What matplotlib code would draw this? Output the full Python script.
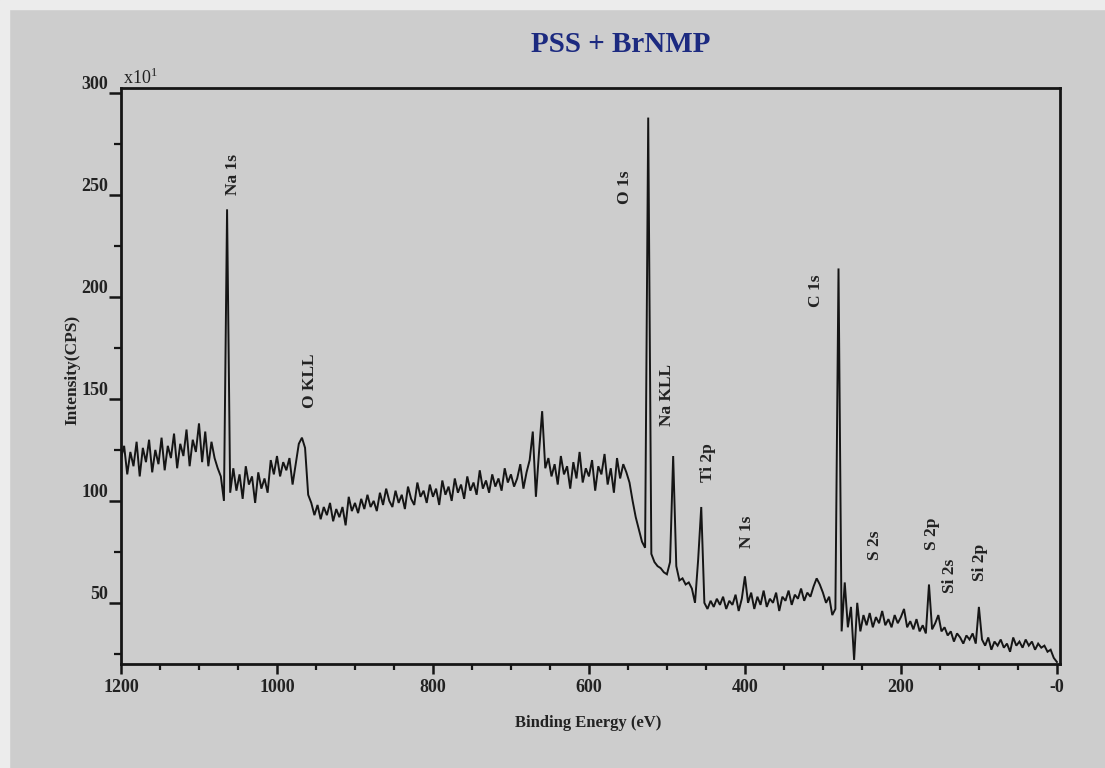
import numpy as np
import matplotlib
matplotlib.use("Agg")
import matplotlib.pyplot as plt
from matplotlib.ticker import MultipleLocator
from matplotlib.patches import Rectangle

# Survey spectrum, 4 eV steps from 1200 eV down to 0 eV (counts in units of 10 CPS)
counts_1200_904 = [
    121, 127, 113, 124, 117, 129, 112, 126, 119, 130, 114, 125, 118, 131, 115, 127, 121, 133, 116, 128, 122, 135, 117, 130, 124,
    138, 119, 134, 117, 129, 121, 116, 112, 100, 243, 104, 116, 105, 113, 101, 117, 108, 112, 99, 114, 106, 111, 104, 120, 113,
    122, 112, 119, 115, 121, 108, 118, 128, 131, 126, 103, 99, 93, 98, 91, 97, 93, 99, 90, 96, 92, 97, 88, 102, 95,
]
counts_900_504 = [
    99, 94, 101, 96, 103, 97, 100, 95, 104, 98, 106, 100, 97, 105, 99, 103, 96, 107, 101, 98, 109, 102, 105, 99, 108,
    102, 106, 98, 110, 103, 107, 100, 111, 104, 108, 101, 112, 105, 109, 103, 115, 106, 110, 104, 113, 107, 111, 105, 116, 109,
    113, 107, 111, 118, 106, 114, 120, 134, 102, 124, 144, 116, 121, 112, 118, 108, 122, 113, 117, 106, 119, 111, 124, 109, 116,
    112, 120, 105, 117, 113, 123, 108, 116, 104, 121, 111, 118, 114, 109, 100, 92, 86, 80, 77, 288, 74, 70, 68, 67, 65,
]
counts_500_0 = [
    64, 70, 122, 68, 61, 62, 59, 60, 57, 50, 71, 97, 50, 47, 51, 48, 52, 49, 53, 47, 51, 49, 54, 46, 52,
    63, 50, 55, 47, 53, 49, 56, 48, 52, 50, 55, 46, 53, 51, 56, 49, 54, 52, 57, 51, 55, 53, 58, 62, 59,
    55, 50, 53, 44, 47, 214, 36, 60, 38, 48, 22, 50, 36, 44, 39, 45, 38, 43, 40, 46, 39, 42, 38, 44, 40,
    43, 47, 38, 41, 37, 42, 36, 39, 35, 59, 37, 40, 44, 36, 38, 34, 36, 31, 35, 33, 30, 34, 32, 35, 30,
    48, 32, 29, 33, 27, 31, 29, 32, 28, 30, 26, 33, 29, 31, 28, 32, 29, 31, 27, 30, 28, 29, 26, 27, 23, 21,
]

# Peak assignments: (label, binding energy of label centre, intensity of label centre)
peak_labels = ["Na 1s", "O KLL", "O 1s", "Na KLL", "Ti 2p", "N 1s", "C 1s", "S 2s", "S 2p", "Si 2s", "Si 2p"]
label_energy = [1056, 958, 554, 500, 447, 397, 309, 233, 160, 137, 99]
label_intensity = [260, 159, 254, 152, 119, 85, 203, 78, 84, 63, 70]

x_major = [1200, 1000, 800, 600, 400, 200, 0]
x_major_labels = ["1200", "1000", "800", "600", "400", "200", "-0"]
y_major = [50, 100, 150, 200, 250, 300]

counts = np.array(counts_1200_904 + counts_900_504 + counts_500_0, dtype=float)
energy = np.linspace(1200, 0, counts.size)

W, H = 1105, 768
serif = ["Liberation Serif", "DejaVu Serif"]
bg = "#cdcdcd"
ink = "#151515"

fig = plt.figure(figsize=(W / 100, H / 100), dpi=100)
fig.patch.set_facecolor(bg)
# lighter paper edge along top and left
fig.patches.append(Rectangle((0, 0), 9 / W, 1, transform=fig.transFigure, color="#ececec", zorder=0))
fig.patches.append(Rectangle((0, 1 - 9 / H), 1, 9 / H, transform=fig.transFigure, color="#ececec", zorder=0))

ax = fig.add_axes([121 / W, 1 - 664 / H, (1060 - 121) / W, (664 - 88) / H])
ax.set_facecolor(bg)
ax.plot(energy, counts, color=ink, lw=1.4, solid_joinstyle="miter")

ax.set_xlim(1200, -4)
ax.set_ylim(20, 302.5)

ax.set_xticks(x_major)
ax.set_xticklabels(x_major_labels)
ax.xaxis.set_minor_locator(MultipleLocator(50))
ax.set_yticks(y_major)
ax.yaxis.set_minor_locator(MultipleLocator(25))

for s in ax.spines.values():
    s.set_linewidth(2.0)
    s.set_color(ink)

ax.tick_params(axis="x", which="major", direction="out", length=7, width=1.8, pad=4, colors=ink)
ax.tick_params(axis="x", which="minor", direction="out", length=4, width=1.6, colors=ink)
ax.tick_params(axis="y", which="major", direction="out", length=9, width=1.8, pad=0, colors=ink)
ax.tick_params(axis="y", which="minor", direction="out", length=5, width=1.6, colors=ink)

for lbl in ax.get_xticklabels() + ax.get_yticklabels():
    lbl.set_fontfamily(serif)
    lbl.set_fontsize(13)
    lbl.set_fontweight("bold")
    lbl.set_color("#222222")
for lbl in ax.get_yticklabels():
    lbl.set_verticalalignment("bottom")

for name, be, inten in zip(peak_labels, label_energy, label_intensity):
    ax.text(be, inten, name, rotation=90, ha="center", va="center",
            fontsize=12.5, fontweight="bold", family=serif, color="#222222")

fig.text(123 / W, 1 - 88 / H, "x10$^{\\mathregular{1}}$", ha="left", va="bottom",
         fontsize=13, family=serif, color="#222222")
fig.text(621 / W, 1 - 45 / H, "PSS + BrNMP", ha="center", va="center",
         fontsize=21, fontweight="bold", family=serif, color="#1c2a80")
fig.text(588 / W, 1 - 723 / H, "Binding Energy (eV)", ha="center", va="center",
         fontsize=12, fontweight="bold", family=serif, color="#222222")
fig.text(72 / W, 1 - 370 / H, "Intensity(CPS)", ha="center", va="center", rotation=90,
         fontsize=12.5, fontweight="bold", family=serif, color="#222222")

fig.savefig("out.png", dpi=100, facecolor=fig.get_facecolor())
